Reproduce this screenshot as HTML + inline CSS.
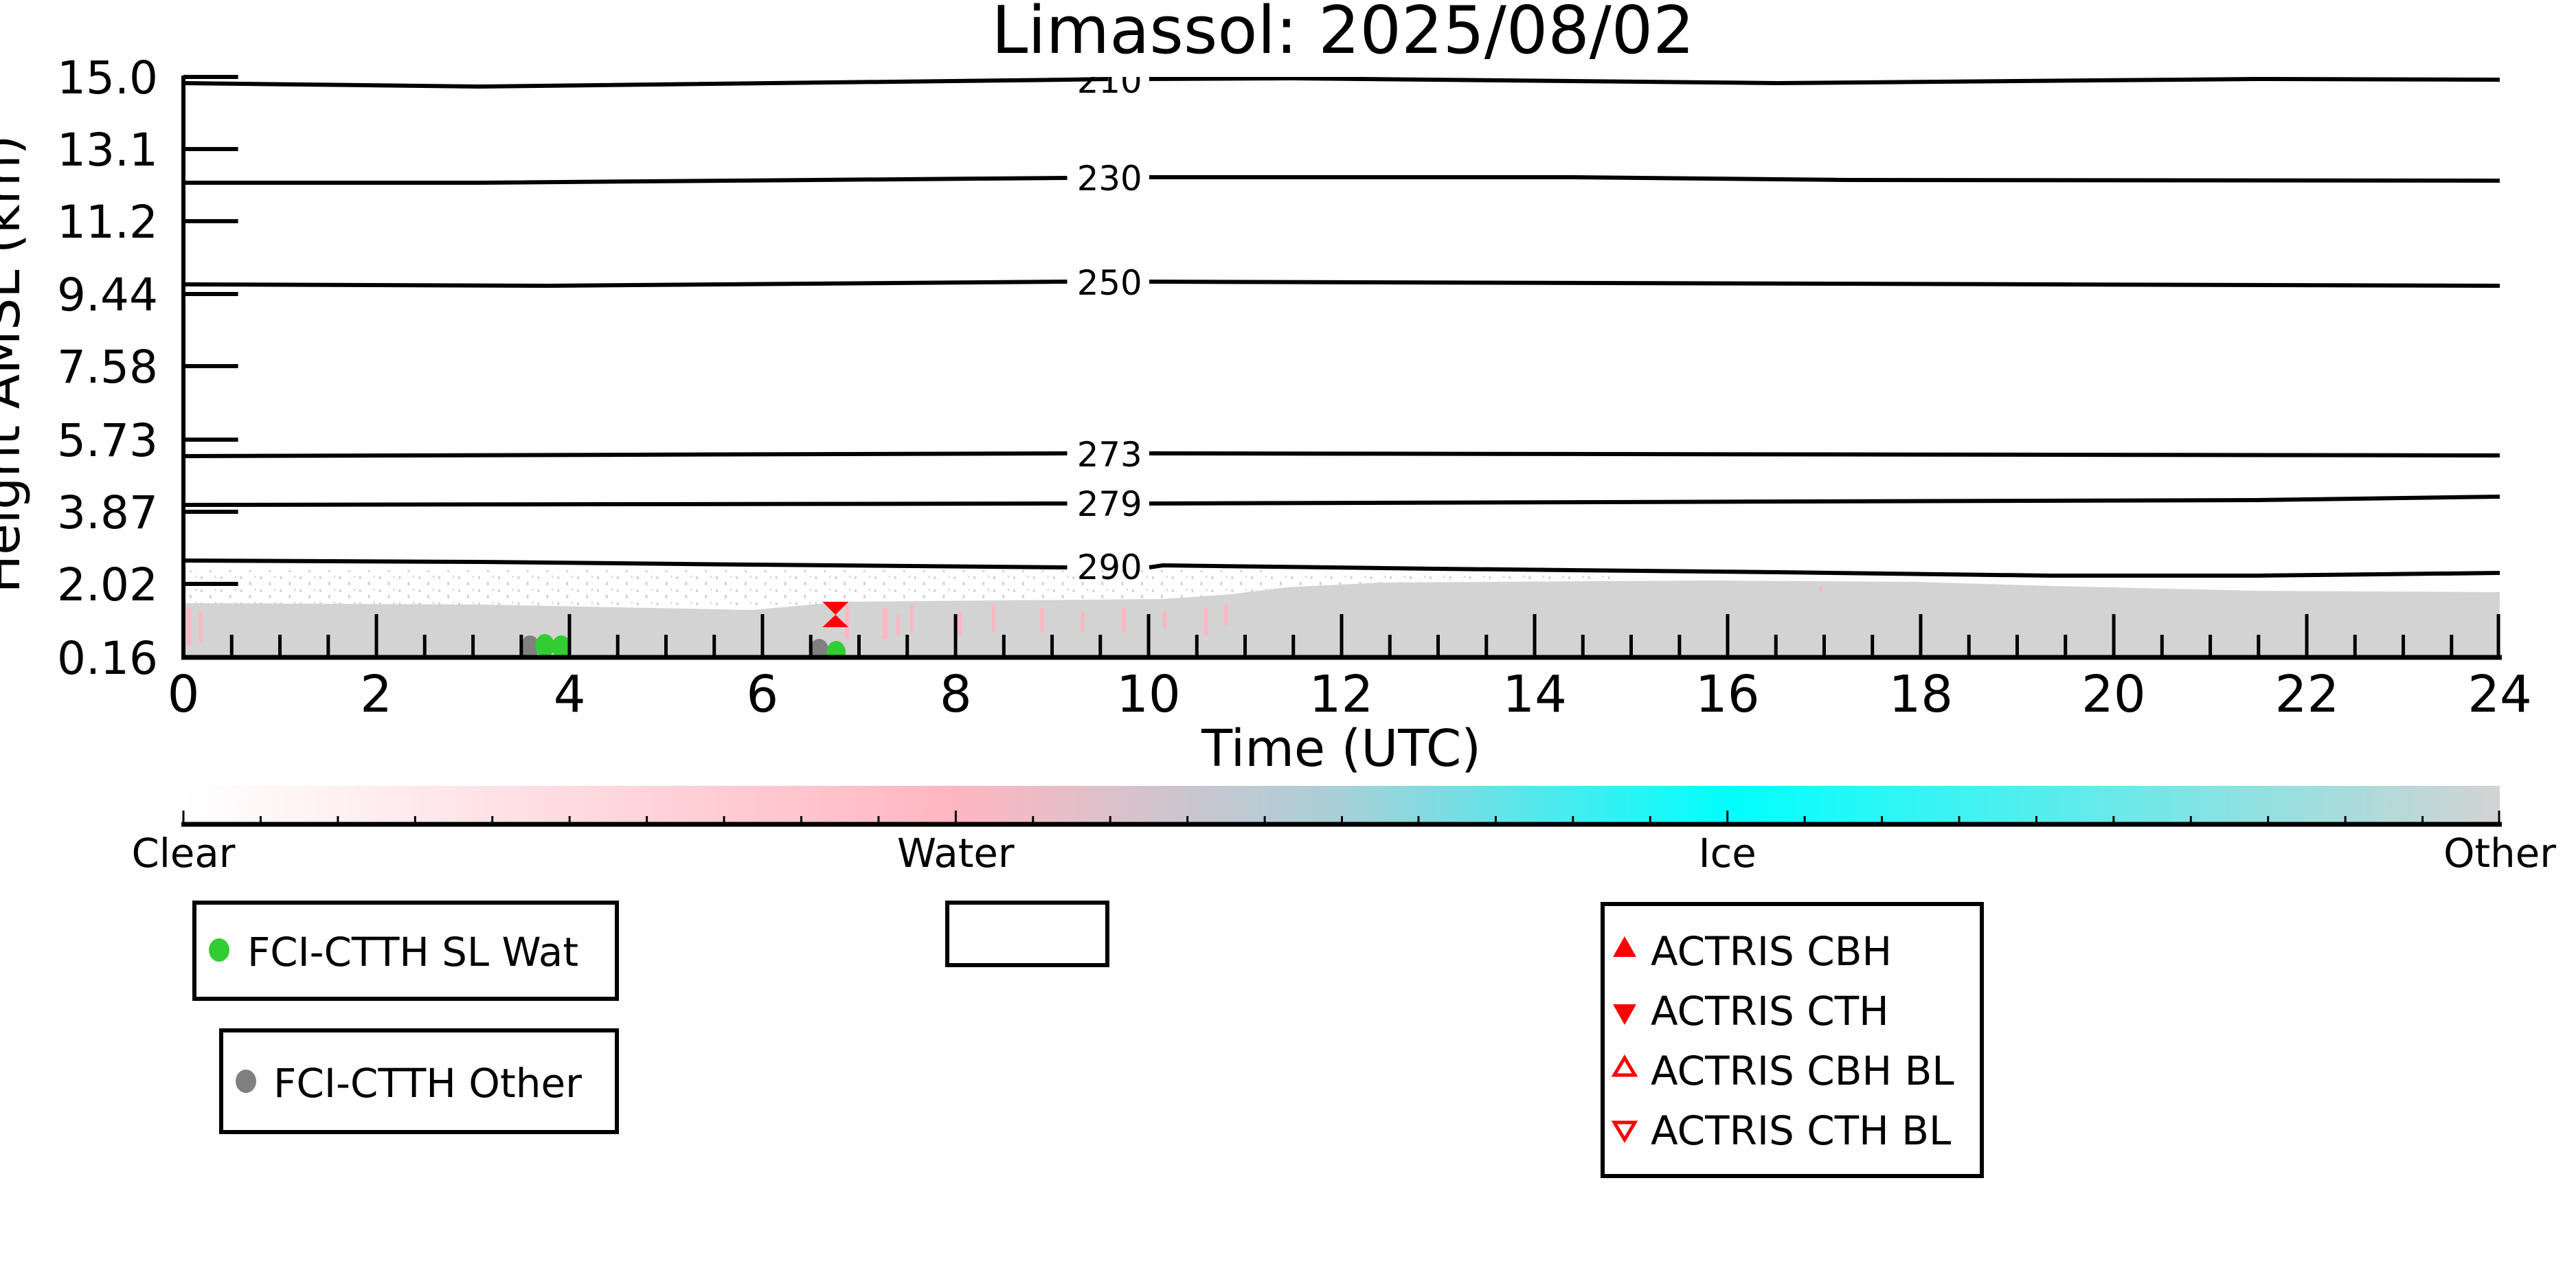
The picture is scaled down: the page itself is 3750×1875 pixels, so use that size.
<!DOCTYPE html>
<html><head><meta charset="utf-8"><style>
html,body{margin:0;padding:0;background:#fff;}
svg{display:block;}
text{font-family:"DejaVu Sans","Liberation Sans",sans-serif;}
</style></head><body>
<svg width="3750" height="1875" viewBox="0 0 3750 1875" xmlns="http://www.w3.org/2000/svg">
<defs>
<linearGradient id="cb" x1="0" x2="1" y1="0" y2="0">
<stop offset="0" stop-color="#ffffff"/>
<stop offset="0.333" stop-color="#ffb6c1"/>
<stop offset="0.5" stop-color="#a8d0d8"/>
<stop offset="0.667" stop-color="#00ffff"/>
<stop offset="1" stop-color="#d3d3d3"/>
</linearGradient>
<clipPath id="pc"><rect x="267" y="112" width="3389" height="845"/></clipPath>
<pattern id="spk" width="29" height="19" patternUnits="userSpaceOnUse">
<rect x="2" y="3" width="3" height="4" fill="#d3d3d3"/>
<rect x="15" y="11" width="3" height="5" fill="#d3d3d3"/>
<rect x="23" y="2" width="2" height="3" fill="#d3d3d3"/>
</pattern>
</defs>

<text x="1955" y="77" font-size="95" text-anchor="middle">Limassol: 2025/08/02</text>

<g transform="translate(267,0) scale(0.995,1) translate(-267,0)">
<g clip-path="url(#pc)">
<rect x="267" y="830" width="1600" height="52" fill="url(#spk)"/>
<rect x="1867" y="835" width="500" height="25" fill="url(#spk)"/>
<polygon fill="#d3d3d3" points="267,878 700,880 1100,888 1230,876 1700,872 1800,865 1880,855 2020,848 2500,845 2800,847 3000,853 3300,860 3656,862 3656,957 267,957"/>
<g fill="#ffb6c1">
<rect x="272" y="885" width="6" height="55"/><rect x="290" y="890" width="5" height="45"/>
<rect x="1235" y="880" width="6" height="50"/><rect x="1290" y="885" width="7" height="45"/>
<rect x="1310" y="895" width="5" height="30"/>
<rect x="1330" y="880" width="5" height="40"/><rect x="1400" y="890" width="6" height="35"/>
<rect x="1450" y="880" width="5" height="40"/><rect x="1520" y="885" width="6" height="35"/>
<rect x="1580" y="890" width="5" height="30"/><rect x="1640" y="885" width="6" height="35"/>
<rect x="1700" y="890" width="5" height="25"/><rect x="1760" y="885" width="6" height="40"/>
<rect x="1790" y="880" width="5" height="30"/><rect x="2660" y="853" width="5" height="8"/>
</g>
<g fill="none" stroke="#000" stroke-width="6">
<polyline points="267,121 700,126 1560,116 1620,115"/><polyline points="1680,115 1890,114 2400,119 2600,121 3300,115 3656,116"/>
<polyline points="267,266 700,266 1560,259"/><polyline points="1680,258 2300,258 2700,262 3656,263"/>
<polyline points="267,414 800,416 1560,410"/><polyline points="1680,410 3656,416"/>
<polyline points="267,664 1560,660"/><polyline points="1680,660 3656,663"/>
<polyline points="267,735 1560,733"/><polyline points="1680,733 3300,728 3656,723"/>
<polyline points="267,816 700,818 1100,822 1560,826"/><polyline points="1680,826 1700,823 2100,828 2600,833 3000,838 3300,838 3656,834"/>
</g>
<g font-size="50" text-anchor="middle">
<text x="1622" y="135">210</text>
<text x="1622" y="277">230</text>
<text x="1622" y="429">250</text>
<text x="1622" y="679">273</text>
<text x="1622" y="751">279</text>
<text x="1622" y="843">290</text>
</g>
<ellipse cx="774" cy="942" rx="14" ry="17" fill="#808080"/>
<ellipse cx="796" cy="940" rx="14" ry="17" fill="#32cd32"/>
<ellipse cx="820" cy="942" rx="14" ry="17" fill="#32cd32"/>
<ellipse cx="1197" cy="947" rx="14" ry="17" fill="#808080"/>
<ellipse cx="1222" cy="950" rx="14" ry="17" fill="#32cd32"/>
<polygon points="1202,876 1240,876 1221,895" fill="#f00"/>
<polygon points="1202,913 1240,913 1221,895" fill="#f00"/>
</g>

<g stroke="#000">
<line x1="267" y1="110" x2="267" y2="960" stroke-width="6"/>
<line x1="264" y1="957" x2="3659" y2="957" stroke-width="7"/>
<g stroke-width="6">
<line x1="267" y1="112" x2="347" y2="112"/><line x1="267" y1="217" x2="347" y2="217"/>
<line x1="267" y1="322" x2="347" y2="322"/><line x1="267" y1="428" x2="347" y2="428"/>
<line x1="267" y1="533" x2="347" y2="533"/><line x1="267" y1="640" x2="347" y2="640"/>
<line x1="267" y1="745" x2="347" y2="745"/><line x1="267" y1="850" x2="347" y2="850"/>
</g>
</g>
<g stroke="#000" stroke-width="5">
<line x1="337.6" y1="924" x2="337.6" y2="957"/><line x1="408.2" y1="924" x2="408.2" y2="957"/><line x1="478.9" y1="924" x2="478.9" y2="957"/>
<line x1="549.4" y1="894" x2="549.4" y2="957"/>
<line x1="620" y1="924" x2="620" y2="957"/><line x1="690.7" y1="924" x2="690.7" y2="957"/><line x1="761.3" y1="924" x2="761.3" y2="957"/>
<line x1="831.8" y1="894" x2="831.8" y2="957"/>
<line x1="902.4" y1="924" x2="902.4" y2="957"/><line x1="973" y1="924" x2="973" y2="957"/><line x1="1043.6" y1="924" x2="1043.6" y2="957"/>
<line x1="1114.2" y1="894" x2="1114.2" y2="957"/>
<line x1="1184.8" y1="924" x2="1184.8" y2="957"/><line x1="1255.4" y1="924" x2="1255.4" y2="957"/><line x1="1326" y1="924" x2="1326" y2="957"/>
<line x1="1396.7" y1="894" x2="1396.7" y2="957"/>
<line x1="1467.3" y1="924" x2="1467.3" y2="957"/><line x1="1537.9" y1="924" x2="1537.9" y2="957"/><line x1="1608.5" y1="924" x2="1608.5" y2="957"/>
<line x1="1679.1" y1="894" x2="1679.1" y2="957"/>
<line x1="1749.7" y1="924" x2="1749.7" y2="957"/><line x1="1820.3" y1="924" x2="1820.3" y2="957"/><line x1="1890.9" y1="924" x2="1890.9" y2="957"/>
<line x1="1961.5" y1="894" x2="1961.5" y2="957"/>
<line x1="2032.1" y1="924" x2="2032.1" y2="957"/><line x1="2102.7" y1="924" x2="2102.7" y2="957"/><line x1="2173.3" y1="924" x2="2173.3" y2="957"/>
<line x1="2243.9" y1="894" x2="2243.9" y2="957"/>
<line x1="2314.5" y1="924" x2="2314.5" y2="957"/><line x1="2385.1" y1="924" x2="2385.1" y2="957"/><line x1="2455.8" y1="924" x2="2455.8" y2="957"/>
<line x1="2526.3" y1="894" x2="2526.3" y2="957"/>
<line x1="2596.9" y1="924" x2="2596.9" y2="957"/><line x1="2667.5" y1="924" x2="2667.5" y2="957"/><line x1="2738.1" y1="924" x2="2738.1" y2="957"/>
<line x1="2808.7" y1="894" x2="2808.7" y2="957"/>
<line x1="2879.3" y1="924" x2="2879.3" y2="957"/><line x1="2949.9" y1="924" x2="2949.9" y2="957"/><line x1="3020.5" y1="924" x2="3020.5" y2="957"/>
<line x1="3091.2" y1="894" x2="3091.2" y2="957"/>
<line x1="3161.8" y1="924" x2="3161.8" y2="957"/><line x1="3232.4" y1="924" x2="3232.4" y2="957"/><line x1="3303" y1="924" x2="3303" y2="957"/>
<line x1="3373.6" y1="894" x2="3373.6" y2="957"/>
<line x1="3444.2" y1="924" x2="3444.2" y2="957"/><line x1="3514.8" y1="924" x2="3514.8" y2="957"/><line x1="3585.4" y1="924" x2="3585.4" y2="957"/>
<line x1="3654" y1="894" x2="3654" y2="957"/>
</g>

<g font-size="74" text-anchor="middle">
<text x="267" y="1036">0</text><text x="549" y="1036">2</text><text x="832" y="1036">4</text>
<text x="1114" y="1036">6</text><text x="1397" y="1036">8</text><text x="1679" y="1036">10</text>
<text x="1961" y="1036">12</text><text x="2244" y="1036">14</text><text x="2526" y="1036">16</text>
<text x="2809" y="1036">18</text><text x="3091" y="1036">20</text><text x="3374" y="1036">22</text>
<text x="3656" y="1036">24</text>
</g>
<text x="1961" y="1115" font-size="74" text-anchor="middle">Time (UTC)</text>

<rect x="267" y="1144" width="3389" height="54" fill="url(#cb)"/>
<line x1="264" y1="1200" x2="3659" y2="1200" stroke="#000" stroke-width="7"/>
<g stroke="#000" stroke-width="3">
<line x1="267" y1="1180" x2="267" y2="1200"/><line x1="1397" y1="1180" x2="1397" y2="1200"/>
<line x1="2526" y1="1180" x2="2526" y2="1200"/><line x1="3655" y1="1180" x2="3655" y2="1200"/>
<line x1="380" y1="1188" x2="380" y2="1200"/><line x1="493" y1="1188" x2="493" y2="1200"/><line x1="606" y1="1188" x2="606" y2="1200"/><line x1="719" y1="1188" x2="719" y2="1200"/><line x1="832" y1="1188" x2="832" y2="1200"/><line x1="945" y1="1188" x2="945" y2="1200"/><line x1="1058" y1="1188" x2="1058" y2="1200"/><line x1="1171" y1="1188" x2="1171" y2="1200"/><line x1="1284" y1="1188" x2="1284" y2="1200"/>
<line x1="1510" y1="1188" x2="1510" y2="1200"/><line x1="1623" y1="1188" x2="1623" y2="1200"/><line x1="1736" y1="1188" x2="1736" y2="1200"/><line x1="1849" y1="1188" x2="1849" y2="1200"/><line x1="1962" y1="1188" x2="1962" y2="1200"/><line x1="2074" y1="1188" x2="2074" y2="1200"/><line x1="2187" y1="1188" x2="2187" y2="1200"/><line x1="2300" y1="1188" x2="2300" y2="1200"/><line x1="2413" y1="1188" x2="2413" y2="1200"/>
<line x1="2639" y1="1188" x2="2639" y2="1200"/><line x1="2752" y1="1188" x2="2752" y2="1200"/><line x1="2865" y1="1188" x2="2865" y2="1200"/><line x1="2978" y1="1188" x2="2978" y2="1200"/><line x1="3091" y1="1188" x2="3091" y2="1200"/><line x1="3204" y1="1188" x2="3204" y2="1200"/><line x1="3317" y1="1188" x2="3317" y2="1200"/><line x1="3430" y1="1188" x2="3430" y2="1200"/><line x1="3543" y1="1188" x2="3543" y2="1200"/>
</g>
<g font-size="58" text-anchor="middle">
<text x="267" y="1262">Clear</text><text x="1397" y="1262">Water</text>
<text x="2526" y="1262">Ice</text><text x="3656" y="1262">Other</text>
</g>
</g>

<g font-size="66" text-anchor="end">
<text x="230" y="136">15.0</text><text x="230" y="241">13.1</text><text x="230" y="346">11.2</text>
<text x="230" y="452">9.44</text><text x="230" y="557">7.58</text><text x="230" y="664">5.73</text>
<text x="230" y="769">3.87</text><text x="230" y="874">2.02</text><text x="230" y="981">0.16</text>
</g>
<text transform="translate(28,530) rotate(-90)" font-size="74" text-anchor="middle">Height AMSL (km)</text>

<g fill="none" stroke="#000" stroke-width="6">
<rect x="283" y="1314" width="615" height="140"/>
<rect x="322" y="1500" width="576" height="148"/>
<rect x="1379" y="1314" width="233" height="91"/>
<rect x="2333" y="1316" width="552" height="396"/>
</g>
<ellipse cx="319" cy="1383" rx="15" ry="17" fill="#32cd32"/>
<text x="360" y="1406" font-size="58" textLength="482" lengthAdjust="spacingAndGlyphs">FCI-CTTH SL Wat</text>
<ellipse cx="358" cy="1574" rx="15" ry="17" fill="#808080"/>
<text x="398" y="1597" font-size="58" textLength="449" lengthAdjust="spacingAndGlyphs">FCI-CTTH Other</text>

<polygon points="2348,1393 2382,1393 2365,1363" fill="#f00"/>
<polygon points="2348,1462 2382,1462 2365,1492" fill="#f00"/>
<polygon points="2350,1565 2380,1565 2365,1540" fill="none" stroke="#f00" stroke-width="5"/>
<polygon points="2350,1634 2380,1634 2365,1659" fill="none" stroke="#f00" stroke-width="5"/>
<g font-size="58">
<text x="2403" y="1405">ACTRIS CBH</text>
<text x="2403" y="1492">ACTRIS CTH</text>
<text x="2403" y="1579">ACTRIS CBH BL</text>
<text x="2403" y="1666">ACTRIS CTH BL</text>
</g>
</svg>
</body></html>
